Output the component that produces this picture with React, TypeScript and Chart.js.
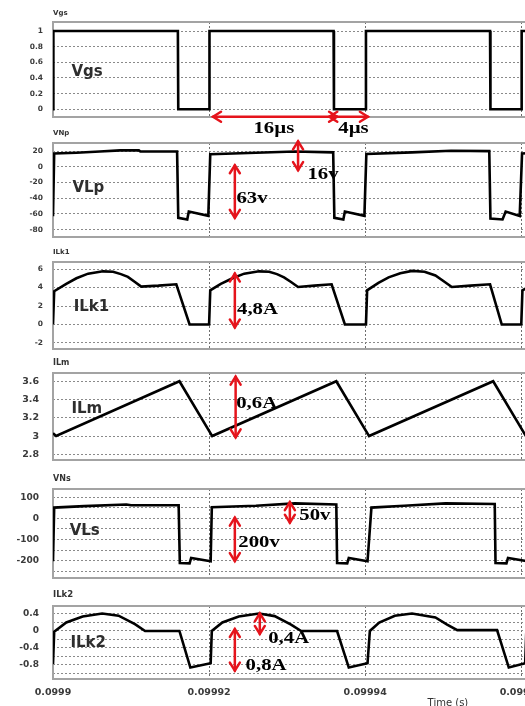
import React, { useEffect, useRef } from 'react';
import { Chart, registerables } from 'chart.js';

Chart.register(...registerables);

// ---------- shared x axis (time offset in µs from 0.0999 s) ----------
const X_MIN = 0;
const X_MAX = 62.4;
const xTickValues = [0, 20, 40, 60];
const xTickLabels = ['0.0999', '0.09992', '0.09994', '0.09996'];

// ---------- Vgs ----------
const vgsT = [0, 0.05, 16.0, 16.05, 20.0, 20.05, 35.95, 36.0, 40.05, 40.1, 56.0, 56.05, 60.0, 60.05, 62.4];
const vgsV = [0, 1, 1, 0, 0, 1, 1, 0, 0, 1, 1, 0, 0, 1, 1];
const vgsTicks = [0, 0.2, 0.4, 0.6, 0.8, 1];
const vgsTickLabels = ['0', '0.2', '0.4', '0.6', '0.8', '1'];

// ---------- VNp ----------
const vnpT = [0, 0.15, 3, 6, 8.6, 11, 11.2, 15.9, 16.05, 17.2, 17.4, 19.9, 20.15,
  26, 31, 35.9, 36.05, 37.2, 37.4, 39.9, 40.15,
  46, 51, 55.9, 56.05, 57.6, 58.0, 59.8, 60.1, 62.4];
const vnpV = [-63, 17, 18, 19.5, 21, 21, 19.5, 19.5, -65, -67, -57, -62.5, 16,
  18, 19.5, 18.5, -65, -67, -57, -62.5, 16.5,
  18.5, 20.5, 20, -66, -67, -57, -62.5, 17, 18];
const vnpTicks = [-80, -60, -40, -20, 0, 20];
const vnpTickLabels = ['-80', '-60', '-40', '-20', '0', '20'];

// ---------- ILk1 ----------
const ilk1T = [0, 0.15, 1.7, 3, 4.5, 6.4, 7.7, 8.7, 9.6, 10.5, 11.3, 13.5, 15.8, 17.5, 20,
  20.15, 21.5, 23, 24.5, 26.4, 27.7, 28.7, 29.6, 30.5, 31.4, 33.5, 35.7, 37.4, 40.1,
  40.25, 41.7, 43, 44.5, 46, 47.6, 49, 50.2, 51.1, 53.5, 56, 57.5, 60,
  60.15, 61.5, 62.4];
const ilk1V = [0, 3.6, 4.4, 5.0, 5.5, 5.75, 5.7, 5.45, 5.15, 4.6, 4.1, 4.2, 4.35, 0, 0,
  3.7, 4.4, 5.0, 5.5, 5.75, 5.7, 5.45, 5.1, 4.6, 4.06, 4.2, 4.35, 0, 0,
  3.7, 4.5, 5.1, 5.55, 5.8, 5.7, 5.3, 4.6, 4.06, 4.2, 4.35, 0, 0,
  3.7, 4.3, 4.7];
const ilk1Ticks = [-2, 0, 2, 4, 6];
const ilk1TickLabels = ['-2', '0', '2', '4', '6'];

// ---------- ILm ----------
const ilmT = [0, 0.4, 16.2, 20.4, 36.3, 40.5, 56.4, 60.6, 62.4];
const ilmV = [3.03, 3.0, 3.6, 3.0, 3.6, 3.0, 3.6, 3.0, 3.07];
const ilmTicks = [2.8, 3, 3.2, 3.4, 3.6];
const ilmTickLabels = ['2.8', '3', '3.2', '3.4', '3.6'];

// ---------- VNs ----------
const vnsT = [0, 0.15, 4, 9.4, 10, 16.1, 16.25, 17.5, 17.7, 20.2, 20.35,
  26, 31, 36.3, 36.4, 37.7, 37.9, 40.3, 40.8,
  45, 50.3, 56.6, 56.7, 58.1, 58.3, 60.8, 60.9, 62.4];
const vnsV = [-203, 51, 58, 66, 62, 62, -211, -213, -187, -203, 53,
  60, 71, 66, -211, -213, -187, -203, 51,
  60, 71, 68, -211, -213, -187, -203, 52, 55];
const vnsTicks = [-250, -200, -150, -100, -50, 0, 50, 100];
const vnsTickLabels = ['', '-200', '', '-100', '', '0', '', '100'];

// ---------- ILk2 ----------
const ilk2T = [0, 0.15, 1.7, 3.8, 6.3, 8.4, 10.5, 11.8, 16.2, 17.6, 20.2, 20.35,
  21.7, 23.8, 26.4, 28.4, 30.5, 31.8, 36.4, 37.9, 40.3, 40.6,
  41.8, 43.8, 46, 49, 50.5, 51.8, 56.9, 58.4, 60.5, 60.65, 62.4];
const ilk2V = [-0.78, -0.02, 0.2, 0.34, 0.41, 0.36, 0.16, 0.0, 0.0, -0.86, -0.76, 0.0,
  0.2, 0.34, 0.41, 0.35, 0.15, 0.0, 0.0, -0.86, -0.76, 0.0,
  0.2, 0.36, 0.41, 0.32, 0.15, 0.02, 0.02, -0.86, -0.76, 0.0, 0.2];
const ilk2Ticks = [-1, -0.8, -0.6, -0.4, -0.2, 0, 0.2, 0.4];
const ilk2TickLabels = ['', '-0.8', '', '-0.4', '', '0', '', '0.4'];

// ---------- annotations (data coordinates) ----------
const vgsArrows = [[20.5, -0.095, 36.4, -0.095], [35.4, -0.095, 40.35, -0.095]];
const vgsNotes: [string, number, number][] = [['16µs', 28.3, -0.24], ['4µs', 38.5, -0.24]];
const vnpArrows = [[23.3, 2, 23.3, -65], [31.4, 32.5, 31.4, -4.2]];
const vnpNotes: [string, number, number][] = [['63v', 25.5, -40], ['16v', 34.6, -10.5]];
const ilk1Arrows = [[23.3, 5.51, 23.3, -0.32]];
const ilk1Notes: [string, number, number][] = [['4,8A', 26.2, 1.62]];
const ilmArrows = [[23.4, 3.65, 23.4, 2.986]];
const ilmNotes: [string, number, number][] = [['0,6A', 26.1, 3.357]];
const vnsArrows = [[23.3, 3.3, 23.3, -202], [30.35, 77, 30.35, -20.4]];
const vnsNotes: [string, number, number][] = [['200v', 26.4, -115], ['50v', 33.55, 14.2]];
const ilk2Arrows = [[26.5, 0.414, 26.5, -0.07], [23.3, 0.047, 23.3, -0.934]];
const ilk2Notes: [string, number, number][] = [['0,4A', 30.2, -0.174], ['0,8A', 27.3, -0.816]];

// big in-plot labels [text, x, y(baseline)]
const bigLabels: [string, number, number][] = [
  ['Vgs', 2.36, 0.425],
  ['VLp', 2.49, -31.6],
  ['ILk1', 2.65, 1.44],
  ['ILm', 2.36, 3.254],
  ['VLs', 2.14, -80],
  ['ILk2', 2.23, -0.386],
];
const panelTitles = ['Vgs', 'VNp', 'ILk1', 'ILm', 'VNs', 'ILk2'];
const axisTitle = ['Time (s)', 50.6];

// ---------- panel data (built from the arrays) ----------
const panels = [
  { t: vgsT, v: vgsV, ticks: vgsTicks, labels: vgsTickLabels, yMin: -0.098, yMax: 1.115, arrows: vgsArrows, notes: vgsNotes },
  { t: vnpT, v: vnpV, ticks: vnpTicks, labels: vnpTickLabels, yMin: -89.4, yMax: 30.4, arrows: vnpArrows, notes: vnpNotes },
  { t: ilk1T, v: ilk1V, ticks: ilk1Ticks, labels: ilk1TickLabels, yMin: -2.65, yMax: 6.76, arrows: ilk1Arrows, notes: ilk1Notes },
  { t: ilmT, v: ilmV, ticks: ilmTicks, labels: ilmTickLabels, yMin: 2.738, yMax: 3.69, arrows: ilmArrows, notes: ilmNotes },
  { t: vnsT, v: vnsV, ticks: vnsTicks, labels: vnsTickLabels, yMin: -282, yMax: 139, arrows: vnsArrows, notes: vnsNotes },
  { t: ilk2T, v: ilk2V, ticks: ilk2Ticks, labels: ilk2TickLabels, yMin: -1.13, yMax: 0.588, arrows: ilk2Arrows, notes: ilk2Notes },
];

// ---------- layout / style (pixels) ----------
const layoutBoxes = [
  { top: 22, bottom: 117, tickFont: 7.5, tickPad: 10, titleFont: 7, titleOff: 9 },
  { top: 143, bottom: 237, tickFont: 7.5, tickPad: 10, titleFont: 7, titleOff: 9.5 },
  { top: 262, bottom: 349, tickFont: 7.5, tickPad: 10, titleFont: 7, titleOff: 9.5 },
  { top: 373, bottom: 460, tickFont: 9.5, tickPad: 14, titleFont: 8, titleOff: 10.5 },
  { top: 489, bottom: 578, tickFont: 9, tickPad: 14, titleFont: 8, titleOff: 10 },
  { top: 606, bottom: 679, tickFont: 9, tickPad: 14, titleFont: 8.5, titleOff: 11 },
];
const CANVAS_W = 540;
const PAD_TOP = 22;
const PAD_BOTTOM = 20;
const X_AXIS_H = 27;
const Y_AXIS_W = 53;
const RED = '#e5141c';
const SANS = '"DejaVu Sans", sans-serif';
const SERIF = '"Liberation Serif", "Times New Roman", serif';

function drawHead(ctx: CanvasRenderingContext2D, x: number, y: number, ang: number) {
  const L = 8, W = 5;
  ctx.beginPath();
  ctx.moveTo(x - L * Math.cos(ang) + W * Math.sin(ang), y - L * Math.sin(ang) - W * Math.cos(ang));
  ctx.lineTo(x, y);
  ctx.lineTo(x - L * Math.cos(ang) - W * Math.sin(ang), y - L * Math.sin(ang) + W * Math.cos(ang));
  ctx.stroke();
}

function Panel({ index }: { index: number }) {
  const ref = useRef<HTMLCanvasElement>(null);
  const p = panels[index];
  const lb = layoutBoxes[index];
  const isBottom = index === panels.length - 1;
  const height = PAD_TOP + (lb.bottom - lb.top) + (isBottom ? X_AXIS_H : PAD_BOTTOM);

  useEffect(() => {
    if (!ref.current) return;
    const decor = {
      id: 'decor' + index,
      beforeDatasetsDraw(chart: any) {
        const { ctx, chartArea: a } = chart;
        ctx.save();
        ctx.strokeStyle = '#a3a3a3';
        ctx.lineWidth = 2;
        ctx.strokeRect(a.left, a.top, a.right - a.left, a.bottom - a.top);
        ctx.restore();
      },
      afterDraw(chart: any) {
        const { ctx, chartArea: a } = chart;
        const xs = chart.scales.x, ys = chart.scales.y;
        ctx.save();
        // panel title
        ctx.fillStyle = '#333';
        ctx.font = `bold ${lb.titleFont}px ${SANS}`;
        ctx.textAlign = 'left';
        ctx.textBaseline = 'middle';
        ctx.fillText(panelTitles[index], a.left, a.top - lb.titleOff);
        // big label
        const [bt, bx, by] = bigLabels[index];
        ctx.font = `bold 15px ${SANS}`;
        ctx.textBaseline = 'alphabetic';
        ctx.fillStyle = '#2e2e2e';
        ctx.fillText(bt, xs.getPixelForValue(bx), ys.getPixelForValue(by));
        // arrows
        ctx.strokeStyle = RED;
        ctx.lineWidth = 2.5;
        ctx.lineCap = 'round';
        ctx.lineJoin = 'miter';
        for (const [x1, y1, x2, y2] of p.arrows) {
          const px1 = xs.getPixelForValue(x1), py1 = ys.getPixelForValue(y1);
          const px2 = xs.getPixelForValue(x2), py2 = ys.getPixelForValue(y2);
          const ang = Math.atan2(py2 - py1, px2 - px1);
          ctx.beginPath();
          ctx.moveTo(px1, py1);
          ctx.lineTo(px2, py2);
          ctx.stroke();
          drawHead(ctx, px2, py2, ang);
          drawHead(ctx, px1, py1, ang + Math.PI);
        }
        // notes
        ctx.fillStyle = '#000';
        ctx.font = `bold 17px ${SERIF}`;
        ctx.textAlign = 'center';
        ctx.textBaseline = 'middle';
        for (const [txt, nx, ny] of p.notes) {
          ctx.save();
          ctx.translate(xs.getPixelForValue(nx), ys.getPixelForValue(ny));
          ctx.scale(1.22, 1);
          ctx.fillText(txt, 0, 0);
          ctx.restore();
        }
        if (isBottom) {
          ctx.fillStyle = '#333';
          ctx.font = `10px ${SANS}`;
          ctx.textAlign = 'center';
          ctx.textBaseline = 'middle';
          ctx.fillText(axisTitle[0] as string, xs.getPixelForValue(axisTitle[1] as number), a.bottom + 24);
        }
        ctx.restore();
      },
    };

    const chart = new Chart(ref.current, {
      type: 'line',
      data: {
        datasets: [
          {
            data: p.t.map((t, i) => ({ x: t, y: p.v[i] })),
            borderColor: '#000',
            borderWidth: 2.6,
            pointRadius: 0,
            tension: 0,
            fill: false,
          },
        ],
      },
      options: {
        responsive: false,
        animation: false,
        events: [],
        layout: { padding: { top: PAD_TOP, bottom: isBottom ? 0 : PAD_BOTTOM, left: 0, right: 0 } },
        plugins: { legend: { display: false }, tooltip: { enabled: false }, title: { display: false } },
        scales: {
          x: {
            type: 'linear',
            min: X_MIN,
            max: X_MAX,
            afterBuildTicks: (s: any) => { s.ticks = xTickValues.map((value) => ({ value })); },
            afterFit: (s: any) => { s.height = isBottom ? X_AXIS_H : 0; s.paddingLeft = 0; s.paddingRight = 0; },
            grid: { color: '#6e6e6e', lineWidth: 1, drawTicks: false },
            border: { display: false, dash: [2, 2] },
            ticks: {
              display: isBottom,
              autoSkip: false,
              maxRotation: 0,
              padding: 8,
              color: '#3a3a3a',
              font: { family: SANS, size: 9.5, weight: 'bold' },
              callback: (_v: any, i: number) => xTickLabels[i],
            },
          },
          y: {
            type: 'linear',
            min: p.yMin,
            max: p.yMax,
            afterBuildTicks: (s: any) => { s.ticks = p.ticks.map((value) => ({ value })); },
            afterFit: (s: any) => { s.width = Y_AXIS_W; s.paddingTop = 0; s.paddingBottom = 0; },
            grid: { color: '#8a8a8a', lineWidth: 1, drawTicks: false },
            border: { display: false, dash: [2, 2] },
            ticks: {
              autoSkip: false,
              padding: lb.tickPad,
              color: '#3a3a3a',
              font: { family: SANS, size: lb.tickFont, weight: 'bold' },
              callback: (_v: any, i: number) => p.labels[i],
            },
          },
        },
      } as any,
      plugins: [decor],
    });
    return () => chart.destroy();
  }, []);

  return (
    <canvas
      ref={ref}
      width={CANVAS_W}
      height={height}
      style={{ position: 'absolute', left: 0, top: lb.top - PAD_TOP, width: CANVAS_W, height, display: 'block' }}
    />
  );
}

export default function App() {
  return (
    <div
      style={{
        position: 'absolute',
        left: 0,
        top: 0,
        width: 525,
        height: 706,
        overflow: 'hidden',
        background: '#fff',
      }}
    >
      {panels.map((_, i) => (
        <Panel key={i} index={i} />
      ))}
    </div>
  );
}
